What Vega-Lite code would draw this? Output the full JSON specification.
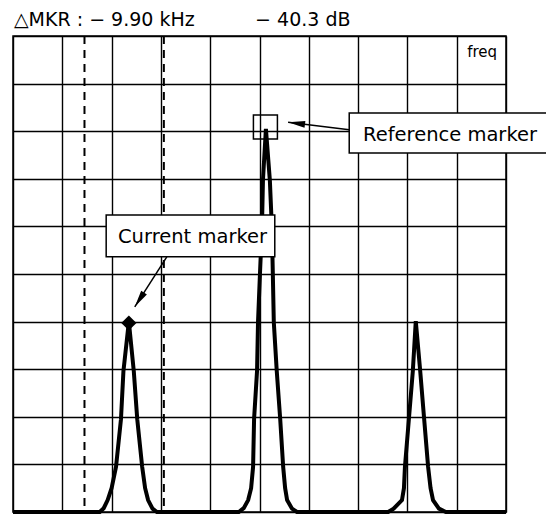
{
  "$schema": "https://vega.github.io/schema/vega-lite/v6.json",
  "width": 493,
  "height": 476,
  "autosize": {"type": "none"},
  "padding": {"left": 13, "top": 36, "right": 40, "bottom": 2},
  "background": "white",
  "title": {
    "text": "△MKR :  − 9.90 kHz\u00a0\u00a0\u00a0\u00a0\u00a0\u00a0\u00a0\u00a0\u00a0\u00a0− 40.3 dB",
    "anchor": "start",
    "fontSize": 19,
    "font": "DejaVu Sans",
    "fontWeight": "normal",
    "color": "black",
    "offset": 5,
    "dx": 9
  },
  "config": {
    "view": {"stroke": "black", "strokeWidth": 1.5},
    "axis": {
      "grid": true,
      "gridColor": "black",
      "gridWidth": 1.4,
      "gridOpacity": 1,
      "domain": false,
      "ticks": false,
      "labels": false,
      "title": null
    }
  },
  "datasets": {
    "trace": [
      {"x": 0, "y": 0},
      {"x": 1.76, "y": 0},
      {"x": 1.84, "y": 0.08},
      {"x": 1.92, "y": 0.25},
      {"x": 2.0, "y": 0.5},
      {"x": 2.09, "y": 0.95},
      {"x": 2.19, "y": 1.95},
      {"x": 2.24, "y": 2.96},
      {"x": 2.35, "y": 4.0},
      {"x": 2.45, "y": 2.96},
      {"x": 2.52, "y": 1.95},
      {"x": 2.62, "y": 0.95},
      {"x": 2.68, "y": 0.5},
      {"x": 2.74, "y": 0.25},
      {"x": 2.83, "y": 0.07},
      {"x": 2.92, "y": 0},
      {"x": 4.58, "y": 0},
      {"x": 4.68, "y": 0.08},
      {"x": 4.77, "y": 0.25},
      {"x": 4.83, "y": 0.5},
      {"x": 4.87, "y": 0.95},
      {"x": 4.89, "y": 1.95},
      {"x": 4.95, "y": 2.96},
      {"x": 4.97, "y": 3.99},
      {"x": 5.01, "y": 5.02},
      {"x": 5.05, "y": 5.99},
      {"x": 5.07, "y": 6.97},
      {"x": 5.13, "y": 8.05},
      {"x": 5.21, "y": 6.97},
      {"x": 5.25, "y": 5.99},
      {"x": 5.27, "y": 5.02},
      {"x": 5.29, "y": 3.99},
      {"x": 5.35, "y": 2.96},
      {"x": 5.42, "y": 1.95},
      {"x": 5.48, "y": 0.95},
      {"x": 5.52, "y": 0.5},
      {"x": 5.56, "y": 0.25},
      {"x": 5.66, "y": 0.07},
      {"x": 5.76, "y": 0},
      {"x": 7.61, "y": 0},
      {"x": 7.72, "y": 0.07},
      {"x": 7.89, "y": 0.25},
      {"x": 7.93, "y": 0.5},
      {"x": 7.95, "y": 0.95},
      {"x": 8.03, "y": 1.95},
      {"x": 8.11, "y": 2.96},
      {"x": 8.17, "y": 4.01},
      {"x": 8.26, "y": 2.96},
      {"x": 8.34, "y": 1.95},
      {"x": 8.42, "y": 0.95},
      {"x": 8.47, "y": 0.5},
      {"x": 8.52, "y": 0.25},
      {"x": 8.64, "y": 0.07},
      {"x": 8.78, "y": 0},
      {"x": 10, "y": 0}
    ],
    "dashed": [{"x": 1.45}, {"x": 3.06}],
    "current": [{"x": 2.35, "y": 3.97}],
    "reference": [{"x": 5.12, "y": 8.09}],
    "boxes": [
      {"label": "Current marker", "x": 1.89, "x2": 5.31, "y": 5.36, "y2": 6.24, "tx": 2.13, "ty": 5.65},
      {"label": "Reference marker", "x": 6.82, "x2": 11, "y": 7.54, "y2": 8.38, "tx": 7.1, "ty": 7.79}
    ],
    "arrows": [
      {"name": "current", "x": 3.12, "y": 5.36, "x2": 2.47, "y2": 4.31},
      {"name": "reference", "x": 6.82, "y": 8.03, "x2": 5.58, "y2": 8.19}
    ],
    "freq": [{"label": "freq", "x": 9.82, "y": 9.56}]
  },
  "layer": [
    {
      "data": {"name": "trace"},
      "mark": {"type": "line", "color": "black", "strokeWidth": 4, "clip": false},
      "encoding": {
        "x": {"field": "x", "type": "quantitative", "scale": {"domain": [0, 10], "nice": false, "zero": false},
              "axis": {"values": [0, 1, 2, 3, 4, 5, 6, 7, 8, 9, 10]}},
        "y": {"field": "y", "type": "quantitative", "scale": {"domain": [0, 10], "nice": false, "zero": false},
              "axis": {"values": [0, 1, 2, 3, 4, 5, 6, 7, 8, 9, 10]}}
      }
    },
    {
      "data": {"name": "dashed"},
      "mark": {"type": "rule", "color": "black", "strokeWidth": 2, "strokeDash": [8, 6]},
      "encoding": {
        "x": {"field": "x", "type": "quantitative"}
      }
    },
    {
      "data": {"name": "current"},
      "mark": {"type": "point", "shape": "diamond", "filled": true, "color": "black", "size": 230, "opacity": 1},
      "encoding": {
        "x": {"field": "x", "type": "quantitative"},
        "y": {"field": "y", "type": "quantitative"}
      }
    },
    {
      "data": {"name": "reference"},
      "mark": {"type": "point", "shape": "square", "filled": false, "stroke": "black", "strokeWidth": 1.5, "size": 576, "opacity": 1},
      "encoding": {
        "x": {"field": "x", "type": "quantitative"},
        "y": {"field": "y", "type": "quantitative"}
      }
    },
    {
      "data": {"name": "arrows"},
      "mark": {"type": "rule", "color": "black", "strokeWidth": 1.5},
      "encoding": {
        "x": {"field": "x", "type": "quantitative"},
        "y": {"field": "y", "type": "quantitative"},
        "x2": {"field": "x2"},
        "y2": {"field": "y2"}
      }
    },
    {
      "data": {"name": "arrows"},
      "transform": [{"filter": "datum.name === 'current'"}],
      "mark": {"type": "point", "shape": "M0,0L0.4,2L-0.4,2Z", "filled": true, "color": "black", "size": 289, "opacity": 1, "angle": 213},
      "encoding": {
        "x": {"field": "x2", "type": "quantitative"},
        "y": {"field": "y2", "type": "quantitative"}
      }
    },
    {
      "data": {"name": "arrows"},
      "transform": [{"filter": "datum.name === 'reference'"}],
      "mark": {"type": "point", "shape": "M0,0L0.4,2L-0.4,2Z", "filled": true, "color": "black", "size": 289, "opacity": 1, "angle": 277.5},
      "encoding": {
        "x": {"field": "x2", "type": "quantitative"},
        "y": {"field": "y2", "type": "quantitative"}
      }
    },
    {
      "data": {"name": "boxes"},
      "mark": {"type": "rect", "fill": "white", "stroke": "black", "strokeWidth": 1.5, "clip": false},
      "encoding": {
        "x": {"field": "x", "type": "quantitative"},
        "x2": {"field": "x2"},
        "y": {"field": "y", "type": "quantitative"},
        "y2": {"field": "y2"}
      }
    },
    {
      "data": {"name": "boxes"},
      "mark": {"type": "text", "align": "left", "baseline": "alphabetic", "font": "DejaVu Sans", "fontSize": 19.5, "color": "black"},
      "encoding": {
        "x": {"field": "tx", "type": "quantitative"},
        "y": {"field": "ty", "type": "quantitative"},
        "text": {"field": "label"}
      }
    },
    {
      "data": {"name": "freq"},
      "mark": {"type": "text", "align": "right", "baseline": "alphabetic", "font": "DejaVu Sans", "fontSize": 15, "color": "black"},
      "encoding": {
        "x": {"field": "x", "type": "quantitative"},
        "y": {"field": "y", "type": "quantitative"},
        "text": {"field": "label"}
      }
    }
  ]
}
